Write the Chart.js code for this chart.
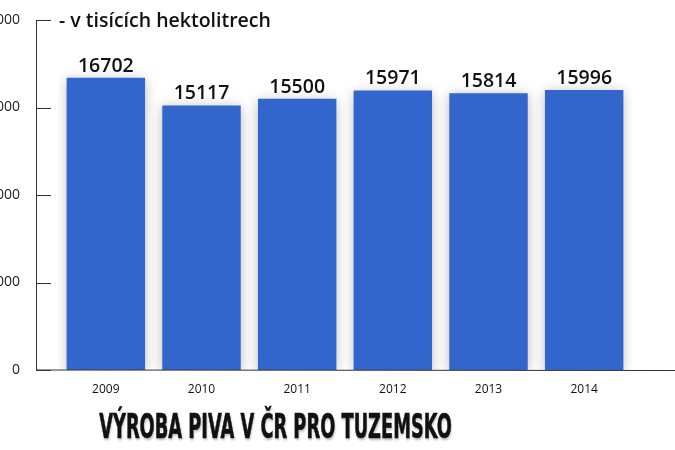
<!DOCTYPE html>
<html>
<head>
<meta charset="utf-8">
<script src="https://cdn.jsdelivr.net/npm/chart.js@4"></script>
<style>
  html, body { margin: 0; padding: 0; background: #fff; }
  #wrap { position: relative; width: 675px; height: 450px; overflow: hidden; }
  #chart { position: absolute; left: 0; top: 0; }
  #unit {
    position: absolute; left: 59px; top: 6px;
    font: 600 19.5px 'Open Sans', sans-serif; color: #111;
  }
  #title {
    position: absolute; left: -62px; width: 675px; top: 407px; text-align: center;
    font: bold 33px 'DejaVu Sans Condensed', 'DejaVu Sans', sans-serif;
    color: #111; transform: scaleX(0.6);
    -webkit-text-stroke: 0.6px #111;
    text-shadow: 0 0 4px #fff, 1px 2px 3px rgba(0,0,0,0.35);
  }
</style>
</head>
<body>
<div id="wrap">
  <canvas id="chart" width="675" height="450"></canvas>
  <div id="unit">- v tisících hektolitrech</div>
  <div id="title">VÝROBA PIVA V ČR PRO TUZEMSKO</div>
</div>
<script>
const years = ['2009', '2010', '2011', '2012', '2013', '2014'];
const production = [16702, 15117, 15500, 15971, 15814, 15996];
const yTicks = [0, 5000, 10000, 15000, 20000];

const axisX = 36;

// axis: vertical line with inner ticks, baseline running to the right edge
const axisLines = {
  id: 'axisLines',
  afterDraw(chart) {
    const { ctx, scales } = chart;
    const y = scales.y;
    ctx.save();
    ctx.strokeStyle = '#333';
    ctx.lineWidth = 1;
    ctx.beginPath();
    ctx.moveTo(axisX + 0.5, y.getPixelForValue(20000));
    ctx.lineTo(axisX + 0.5, y.getPixelForValue(0));
    ctx.lineTo(675, y.getPixelForValue(0) + 0.5);
    yTicks.forEach((v) => {
      const py = Math.round(y.getPixelForValue(v)) + 0.5;
      ctx.moveTo(axisX, py);
      ctx.lineTo(axisX + 15, py);
    });
    ctx.stroke();
    ctx.restore();
  },
};

const barShadow = {
  id: 'barShadow',
  beforeDatasetDraw(chart) {
    const ctx = chart.ctx;
    ctx.save();
    ctx.shadowColor = 'rgba(0,0,0,0.28)';
    ctx.shadowBlur = 12;
    ctx.shadowOffsetY = 2;
  },
  afterDatasetDraw(chart) {
    chart.ctx.restore();
  },
};

const valueLabels = {
  id: 'valueLabels',
  afterDatasetsDraw(chart) {
    const { ctx } = chart;
    const meta = chart.getDatasetMeta(0);
    ctx.save();
    ctx.font = '600 19.5px "Open Sans", sans-serif';
    ctx.fillStyle = '#111';
    ctx.textAlign = 'center';
    ctx.textBaseline = 'bottom';
    meta.data.forEach((bar, i) => {
      ctx.fillText(String(production[i]), bar.x, bar.y - 2);
    });
    ctx.restore();
  },
};

new Chart(document.getElementById('chart'), {
  type: 'bar',
  data: {
    labels: years,
    datasets: [{
      data: production,
      backgroundColor: '#3366cc',
      borderWidth: 0,
      barPercentage: 0.82,
      categoryPercentage: 1,
    }],
  },
  options: {
    responsive: false,
    animation: false,
    layout: { padding: { top: 20, right: 43, bottom: 0, left: 0 } },
    plugins: {
      legend: { display: false },
      tooltip: { enabled: false },
    },
    scales: {
      x: {
        grid: { display: false },
        border: { display: false },
        ticks: {
          color: '#111',
          font: { family: 'Open Sans', size: 12 },
          padding: 4,
        },
        afterFit: (scale) => { scale.height = 80; },
      },
      y: {
        min: 0,
        max: 20000,
        grid: { display: false },
        border: { display: false },
        afterBuildTicks: (scale) => { scale.ticks = yTicks.map((v) => ({ value: v })); },
        ticks: {
          color: '#222',
          font: { family: 'Open Sans', size: 14 },
          padding: 30,
        },
        afterFit: (scale) => {
          scale.width = 58;
          scale.paddingTop = 0;
          scale.paddingBottom = 0;
        },
      },
    },
  },
  plugins: [barShadow, valueLabels, axisLines],
});
</script>
</body>
</html>
